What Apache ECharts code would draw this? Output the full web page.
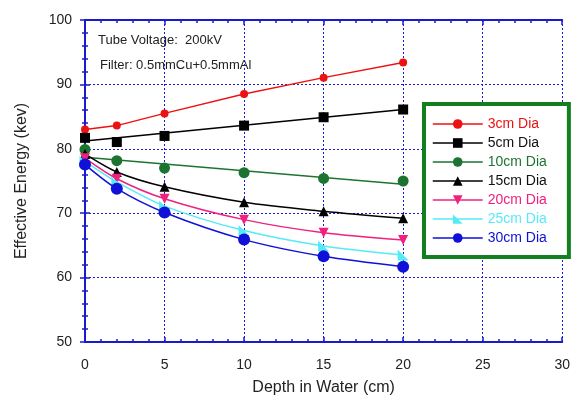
<!DOCTYPE html>
<html><head><meta charset="utf-8">
<script src="https://cdn.jsdelivr.net/npm/echarts@6/dist/echarts.min.js"></script>
<style>html,body{margin:0;padding:0;background:#fff;overflow:hidden}#c{width:573px;height:401px}</style>
</head><body><div id="c"></div>
<script>
const depths = [0, 2, 5, 10, 15, 20];
const names = ['3cm Dia', '5cm Dia', '10cm Dia', '15cm Dia', '20cm Dia', '25cm Dia', '30cm Dia'];
const dia3 = [83.0, 83.6, 85.5, 88.5, 91.05, 93.4];
const dia5 = [81.7, 81.05, 82.0, 83.6, 84.9, 86.1];
const dia10 = [79.9, 78.15, 77.0, 76.3, 75.4, 75.0];
const dia15 = [79.2, 76.4, 74.1, 71.7, 70.3, 69.2];
const dia20 = [78.55, 75.35, 72.25, 69.0, 66.97, 65.85];
const dia25 = [78.05, 74.85, 71.1, 67.3, 64.9, 63.5];
const dia30 = [77.55, 73.8, 70.1, 65.9, 63.3, 61.7];
// fitted straight lines (end points)
const fitDepths = [0, 20];
const fit5 = [81.2, 86.1];
const fit10 = [78.7, 74.5];
const xTicks = [0, 5, 10, 15, 20, 25, 30];
const yTicks = [50, 60, 70, 80, 90, 100];

const colors = ['#ee1111', '#000000', '#1d7431', '#000000', '#f0207f', '#55eaf8', '#1010d8'];
const symbols = ['circle', 'rect', 'circle', 'triangle', 'path://M0,0 L10,0 L5,9 Z', 'path://M0,0 L0,10 L11,10 Z', 'circle'];
const sizes = [8, 10, 11, 10, 10, 11, 12];
const values = [dia3, dia5, dia10, dia15, dia20, dia25, dia30];
const pairs = a => depths.map((d, i) => [d, a[i]]);
const fpairs = a => fitDepths.map((d, i) => [d, a[i]]);

const el = document.getElementById('c');
const chart = echarts.init(el);
const FONT = 'Liberation Sans, Arial, sans-serif';
const axisBlue = '#1a1ad0';
const baseX = {
  type: 'value', min: xTicks[0], max: xTicks[xTicks.length - 1], interval: 5,
  axisLine: { show: true, lineStyle: { color: axisBlue, width: 2 } },
  axisTick: { show: true, inside: true, length: 5, lineStyle: { color: axisBlue, width: 1.5 } },
  minorTick: { show: true, splitNumber: 5, length: 3, lineStyle: { color: axisBlue, width: 1.5 } },
};
const baseY = {
  type: 'value', min: yTicks[0], max: yTicks[yTicks.length - 1], interval: 10,
  axisLine: { show: true, lineStyle: { color: axisBlue, width: 2 } },
  axisTick: { show: true, inside: true, length: 5, lineStyle: { color: axisBlue, width: 1.5 } },
  minorTick: { show: true, splitNumber: 5, length: 3, lineStyle: { color: axisBlue, width: 1.5 } },
};
const series = [];
names.forEach((n, i) => {
  const isFit = (i === 1 || i === 2);
  series.push({
    name: n, type: 'line', data: pairs(values[i]),
    symbol: symbols[i], symbolSize: sizes[i],
    smooth: i >= 3 ? 0.3 : false,
    itemStyle: { color: colors[i] },
    lineStyle: { color: colors[i], width: 1.5, opacity: isFit ? 0 : 1 },
    z: 3 + i, animation: false
  });
});
series.push({ name: 'fit5', type: 'line', data: fpairs(fit5), symbol: 'none', lineStyle: { color: colors[1], width: 1.5 }, z: 2, animation: false });
series.push({ name: 'fit10', type: 'line', data: fpairs(fit10), symbol: 'none', lineStyle: { color: colors[2], width: 1.5 }, z: 2, animation: false });

chart.setOption({
  animation: false,
  grid: { left: 85, right: 8, top: 20, bottom: 53 },
  xAxis: [
    Object.assign({}, baseX, {
      position: 'bottom',
      name: 'Depth in Water (cm)', nameLocation: 'middle', nameGap: 38,
      nameTextStyle: { fontSize: 16, color: '#222', fontFamily: FONT },
      axisLabel: { fontSize: 14, color: '#222', margin: 16, fontFamily: FONT },
      splitLine: { show: true, lineStyle: { color: axisBlue, type: [2, 2], width: 1 } }
    }),
    Object.assign({}, baseX, { position: 'top', axisLabel: { show: false }, splitLine: { show: false } })
  ],
  yAxis: [
    Object.assign({}, baseY, {
      position: 'left',
      name: 'Effective Energy (kev)', nameLocation: 'middle', nameGap: 55,
      nameTextStyle: { fontSize: 16, color: '#222', fontFamily: FONT },
      axisLabel: { fontSize: 14, color: '#222', margin: 13, fontFamily: FONT },
      splitLine: { show: true, lineStyle: { color: axisBlue, type: [2, 2], width: 1 } }
    }),
    Object.assign({}, baseY, { position: 'right', axisLabel: { show: false }, splitLine: { show: false } })
  ],
  legend: {
    orient: 'vertical', left: 424, top: 104,
    backgroundColor: '#fff', borderColor: '#13801f', borderWidth: 4,
    padding: [13, 22, 12, 8],
    itemWidth: 50, itemHeight: 12, itemGap: 5,
    textStyle: { fontSize: 14, fontFamily: FONT },
    data: names.map((n, i) => ({
      name: n,
      textStyle: { color: colors[i] === '#000000' ? '#111' : colors[i] },
      lineStyle: { opacity: 1, color: colors[i], width: 1.5 }
    }))
  },
  graphic: [
    { type: 'text', left: 98, top: 34, style: { text: 'Tube Voltage:  200kV', fontSize: 13, fill: '#222', fontFamily: FONT } },
    { type: 'text', left: 100, top: 59, style: { text: 'Filter: 0.5mmCu+0.5mmAl', fontSize: 13, fill: '#222', fontFamily: FONT } }
  ],
  series: series
});
</script></body></html>
